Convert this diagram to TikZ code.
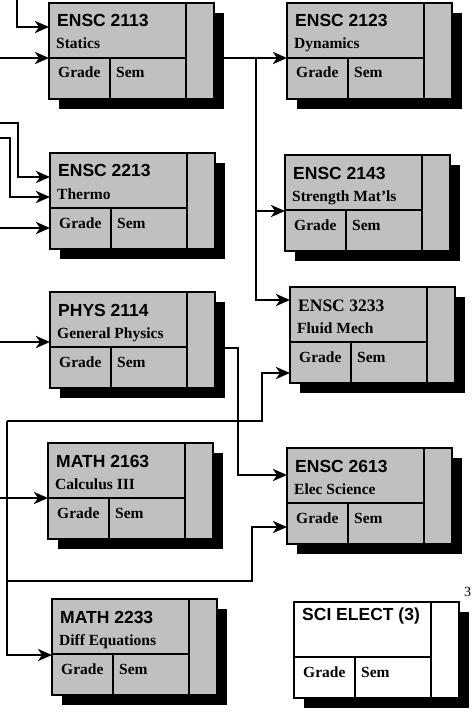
\documentclass[tikz,border=0pt]{standalone}
\usepackage{fontspec}
\setmainfont{Liberation Serif}
\newfontfamily\codefont{Liberation Sans}
\usetikzlibrary{arrows.meta, calc, positioning}
\definecolor{cellgray}{RGB}{192,192,192}

% one course card: name, left, top, code, title, fill
\newcommand{\course}[6]{%
	\fill[black] (#2+10,#3+10) rectangle (#2+175,#3+106);
	\node[boxcell, fill=#6] (#1) at (#2,#3) {};
	\draw[divline] (#2+137,#3) -- (#2+137,#3+96);
	\draw[divline] (#2,#3+55) -- (#2+137,#3+55);
	\draw[divline] (#2+61,#3+55) -- (#2+61,#3+96);
	\node[codetext] (#1-code) at (#2+8,#3+24) {#4};
	\node[nametext] (#1-name) at (#2+7,#3+46) {#5};
	\node[nametext] (#1-grade) at (#2+9,#3+75) {Grade};
	\node[nametext] (#1-sem) at (#2+67,#3+75) {Sem};
}

\begin{document}
\begin{tikzpicture}[x=1pt, y=-1pt, >={Stealth[length=14pt,width=12pt,inset=4pt]}]
	\tikzstyle{boxcell} = [draw, line width=2.5pt, anchor=north west,
		minimum width=165pt, minimum height=96pt, inner sep=0pt, outer sep=0pt]
	\tikzstyle{divline} = [line width=2.5pt]
	\tikzstyle{codetext} = [anchor=base west, inner sep=0pt,
		font=\codefont\bfseries\fontsize{17.5}{20}\selectfont]
	\tikzstyle{nametext} = [anchor=base west, inner sep=0pt,
		font=\bfseries\fontsize{15.5}{18}\selectfont]
	\tikzstyle{flow} = [draw, line width=2.5pt, ->]

	\useasboundingbox (0,0) rectangle (471,714);

	\course{statics}{49}{3}{ENSC 2113}{Statics}{cellgray}
	\course{dynamics}{287}{3}{ENSC 2123}{Dynamics}{cellgray}
	\course{thermo}{50}{153}{ENSC 2213}{Thermo}{cellgray}
	\course{strength}{285}{155}{ENSC 2143}{Strength Mat'ls}{cellgray}
	\course{physics}{50}{292}{PHYS 2114}{General Physics}{cellgray}
	\course{fluid}{290}{287}{\rmfamily ENSC 3233}{Fluid Mech}{cellgray}
	\course{calc}{48}{443}{MATH 2163}{Calculus III}{cellgray}
	\course{elec}{287}{448}{ENSC 2613}{Elec Science}{cellgray}
	\course{diffeq}{52}{599}{MATH 2233}{Diff Equations}{cellgray}
	\course{elective}{294}{602}{\raisebox{6pt}{SCI ELECT (3)}}{}{white}

	\node[anchor=base west, inner sep=0pt, font=\fontsize{14}{16}\selectfont] (page) at (464,596) {3};

	% loose ends and bends
	\coordinate (top1) at (17,0);
	\coordinate (left1) at (0,58);
	\coordinate (left2) at (0,123);
	\coordinate (left3) at (0,138);
	\coordinate (left4) at (0,228);
	\coordinate (left5) at (0,342);
	\coordinate (left6) at (0,498);
	\coordinate (fork) at (256,58);
	\coordinate (loop) at (7,421);
	\coordinate (loop2) at (7,581);

	\draw[flow] (top1) |- ([yshift=-24pt]statics.north west);
	\draw[flow] (left1) -- ([yshift=-55pt]statics.north west);
	\draw[flow] ([xshift=10pt,yshift=-55pt]statics.north east) -- ([yshift=-55pt]dynamics.north west);
	\draw[flow] (fork) |- ([yshift=-56pt]strength.north west);
	\draw[flow] (fork) |- ([yshift=-13pt]fluid.north west);

	\draw[flow] (left2) -- (18,123) |- ([yshift=-24pt]thermo.north west);
	\draw[flow] (left3) -- (10,138) |- ([yshift=-44pt]thermo.north west);
	\draw[flow] (left4) -- ([yshift=-75pt]thermo.north west);

	\draw[flow] (left5) -- ([yshift=-50pt]physics.north west);
	\draw[flow] ([xshift=10pt,yshift=-56pt]physics.north east) -- (238,348) |- ([yshift=-27pt]elec.north west);

	\draw[flow] (left6) -- ([yshift=-55pt]calc.north west);
	\draw[flow] (loop) -- (262,421) |- ([yshift=-86pt]fluid.north west);
	\draw[flow] (loop) |- ([yshift=-56pt]diffeq.north west);
	\draw[flow] (loop2) -- (252,581) |- ([yshift=-79pt]elec.north west);
\end{tikzpicture}
\end{document}
